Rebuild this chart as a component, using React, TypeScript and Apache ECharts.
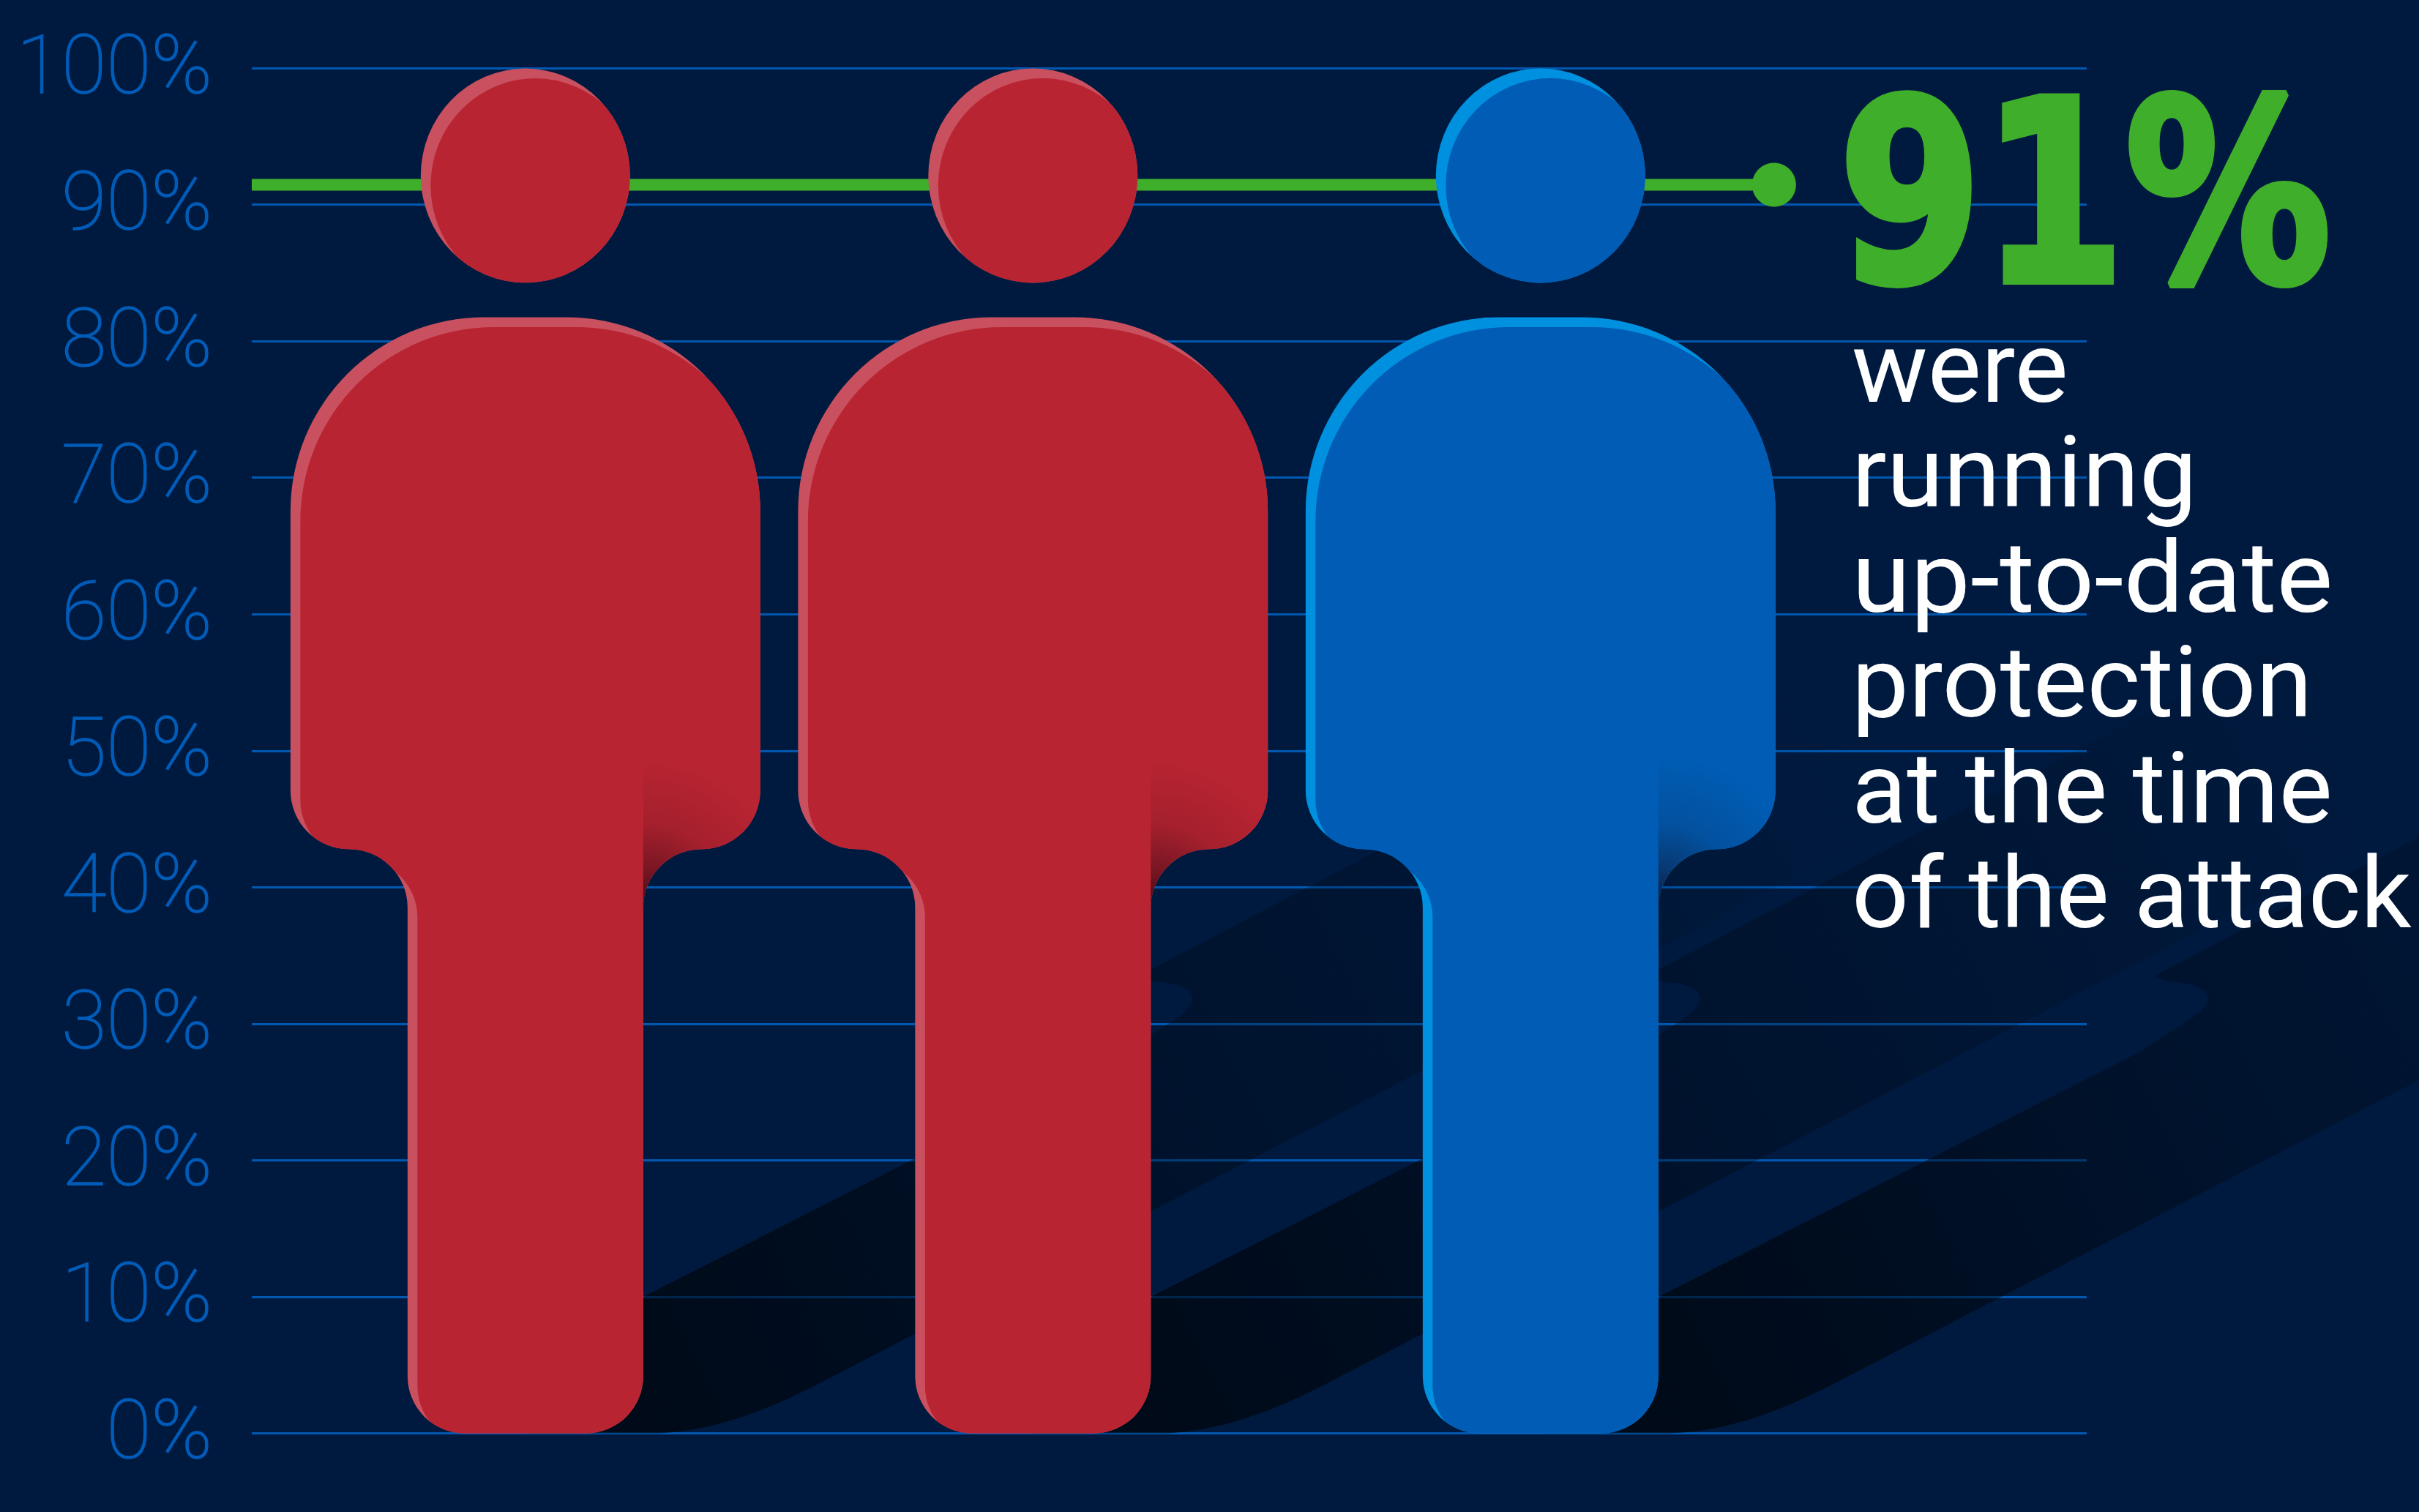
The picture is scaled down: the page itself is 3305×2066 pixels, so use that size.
import React, { useEffect, useRef } from "react";
import * as echarts from "echarts";

const people = ["Person 1", "Person 2", "Person 3"];
const heightPct = [100, 100, 100];
const bodyColors = ["#b92432", "#b92432", "#005cb4"];
const rimColors = ["#c9505f", "#c9505f", "#0090e0"];
const yTicks = [0, 10, 20, 30, 40, 50, 60, 70, 80, 90, 100];
const markerLevel = 91.45;
const markerEndPosition = 2.46;
const axisRange = [-0.539, 3.076];
const headline = "91%";
const captionLines = ["were", "running", "up-to-date", "protection", "at the time", "of the attack"];
const captionStretch = [1.015, 1.035, 1.07, 1.02, 1.016, 1.005];

const REF = 1866;
const BG = "#001a3f";

type P = (u: number, h: number) => string;
const mapper = (cx: number, g: number, s: number): P => (u, h) => `${cx + u * s} ${g - h * s}`;

const bodyPath = (p: P, s: number) => {
  const a = (r: number, sweep: number, u: number, h: number) => `A ${r * s} ${r * s} 0 0 ${sweep} ${p(u, h)}`;
  return [
    `M ${p(-321, 1260.5)}`,
    a(265, 1, -56, 1525.5),
    `L ${p(56, 1525.5)}`,
    a(265, 1, 321, 1260.5),
    `L ${p(321, 878.5)}`,
    a(80, 1, 241, 798.5),
    a(80, 0, 161, 718.5),
    `L ${p(161, 78)}`,
    a(78, 1, 83, 0),
    `L ${p(-83, 0)}`,
    a(78, 1, -161, 78),
    `L ${p(-161, 718.5)}`,
    a(80, 0, -241, 798.5),
    a(80, 1, -321, 878.5),
    "Z",
  ].join(" ");
};

const headPath = (p: P, s: number) =>
  `M ${p(-143, 1719)} A ${143 * s} ${146.5 * s} 0 0 1 ${p(143, 1719)} A ${143 * s} ${146.5 * s} 0 0 1 ${p(-143, 1719)} Z`;

const shadowPath = (p: P) =>
  [
    `M ${p(0, 186.5)}`,
    `L ${p(161, 186.5)}`,
    `L ${p(823, 523.5)}`,
    `C ${p(865, 555)} ${p(922, 578)} ${p(910, 600)}`,
    `C ${p(900, 620)} ${p(860, 612)} ${p(838, 625)}`,
    `L ${p(2138, 1307.5)}`,
    `L ${p(2014, 904.5)}`,
    `L ${p(414, 74.5)}`,
    `C ${p(330, 30)} ${p(250, 0)} ${p(170, 0)}`,
    `L ${p(0, 0)}`,
    "Z",
  ].join(" ");

const renderShadow = (_: any, api: any) => {
  const i = api.value(0);
  const [cx, g] = api.coord([i, 0]);
  const top = api.coord([i, api.value(1)])[1];
  const s = (g - top) / REF;
  const p = mapper(cx, g, s);
  return {
    type: "path",
    shape: { pathData: shadowPath(p) },
    style: {
      fill: new echarts.graphic.LinearGradient(
        cx + 161 * s, g, cx + 1900 * s, g - 900 * s,
        [
          { offset: 0, color: "rgba(0,0,0,0.62)" },
          { offset: 0.2, color: "rgba(0,0,0,0.48)" },
          { offset: 0.45, color: "rgba(0,0,0,0.28)" },
          { offset: 0.75, color: "rgba(0,0,0,0.13)" },
          { offset: 1, color: "rgba(0,0,0,0)" },
        ],
        true
      ),
    },
  };
};

const renderPerson = (_: any, api: any) => {
  const i = api.value(0);
  const [cx, g] = api.coord([i, 0]);
  const top = api.coord([i, api.value(1)])[1];
  const s = (g - top) / REF;
  const p = mapper(cx, g, s);
  const body = bodyPath(p, s);
  const head = headPath(p, s);
  const pIn = mapper(cx + 13.5 * s, g + 13.5 * s, s);
  const bodyIn = bodyPath(pIn, s);
  const headIn = headPath(pIn, s);
  const fill = bodyColors[i];
  const rim = rimColors[i];
  const gx = cx + 161 * s;
  const gy = g - 722 * s;
  const shade = [
    `M ${p(161, 960)}`,
    `L ${p(321, 960)}`,
    `L ${p(321, 878.5)}`,
    `A ${80 * s} ${80 * s} 0 0 1 ${p(241, 798.5)}`,
    `A ${80 * s} ${80 * s} 0 0 0 ${p(161, 718.5)}`,
    "Z",
  ].join(" ");
  return {
    type: "group",
    children: [
      { type: "path", shape: { pathData: head }, style: { fill: rim } },
      { type: "path", shape: { pathData: headIn }, style: { fill }, clipPath: { type: "path", shape: { pathData: head } } },
      { type: "path", shape: { pathData: body }, style: { fill: rim } },
      { type: "path", shape: { pathData: bodyIn }, style: { fill }, clipPath: { type: "path", shape: { pathData: body } } },
      {
        type: "path",
        shape: { pathData: shade },
        style: {
          fill: new echarts.graphic.RadialGradient(
            gx, gy, 205 * s,
            [
              { offset: 0, color: "rgba(20,0,10,0.7)" },
              { offset: 0.25, color: "rgba(20,0,10,0.38)" },
              { offset: 0.55, color: "rgba(20,0,10,0.12)" },
              { offset: 1, color: "rgba(20,0,10,0)" },
            ],
            true
          ),
        },
      },
    ],
  };
};

export default function App() {
  const ref = useRef<HTMLDivElement>(null);
  useEffect(() => {
    document.body.style.margin = "0";
    document.body.style.background = BG;
    const chart = echarts.init(ref.current!, undefined, { renderer: "svg" });
    const seriesData = people.map((_, i) => [i, heightPct[i]]);
    const tickStyle = {
      fontFamily: "Roboto",
      fontWeight: 100,
      fontSize: 112,
      color: "#005cb8",
      textBorderColor: "#005cb8",
      textBorderWidth: 1.5,
    };
    chart.setOption({
      animation: false,
      backgroundColor: BG,
      grid: { left: 344, right: 454, top: 93, bottom: 107.5 },
      xAxis: { type: "value", min: axisRange[0], max: axisRange[1], show: false },
      yAxis: {
        type: "value",
        min: yTicks[0],
        max: yTicks[yTicks.length - 1],
        interval: 10,
        axisLine: { show: false },
        axisTick: { show: false },
        axisLabel: {
          formatter: "{t|{value}%}",
          margin: 54,
          ...tickStyle,
          rich: { t: { ...tickStyle, padding: [0, 0, 10, 0] } },
        },
        splitLine: { show: true, lineStyle: { color: "#0058b0", width: 3 } },
      },
      series: [
        { type: "custom", name: "shadows", z: 1, silent: true, renderItem: renderShadow, data: seriesData, clip: false },
        {
          type: "line",
          name: "marker",
          z: 2,
          silent: true,
          lineStyle: { color: "#3fae2a", width: 16 },
          itemStyle: { color: "#3fae2a" },
          data: [
            { value: [axisRange[0], markerLevel], symbol: "none" },
            { value: [markerEndPosition, markerLevel], symbol: "circle", symbolSize: 60 },
          ],
        },
        { type: "custom", name: "people", z: 3, silent: true, renderItem: renderPerson, data: seriesData, clip: false },
      ],
      graphic: [
        {
          type: "text",
          x: 2512,
          y: 92,
          z: 100,
          scaleX: 0.815,
          style: {
            text: headline,
            fontFamily: "DejaVu Sans",
            fontWeight: "bold",
            fontSize: 345,
            fill: "#3fae2a",
            stroke: "#3fae2a",
            lineWidth: 10,
          },
        },
        ...captionLines.map((line, i) => ({
          type: "text",
          x: 2530,
          y: 430 + 143.8 * i,
          z: 100,
          scaleX: captionStretch[i],
          style: {
            text: line,
            fontFamily: "Roboto",
            fontWeight: 400,
            fontSize: 136,
            lineHeight: 144,
            fill: "#ffffff",
          },
        })),
      ],
    });
    return () => chart.dispose();
  }, []);
  return <div ref={ref} style={{ width: 3305, height: 2066 }} />;
}
